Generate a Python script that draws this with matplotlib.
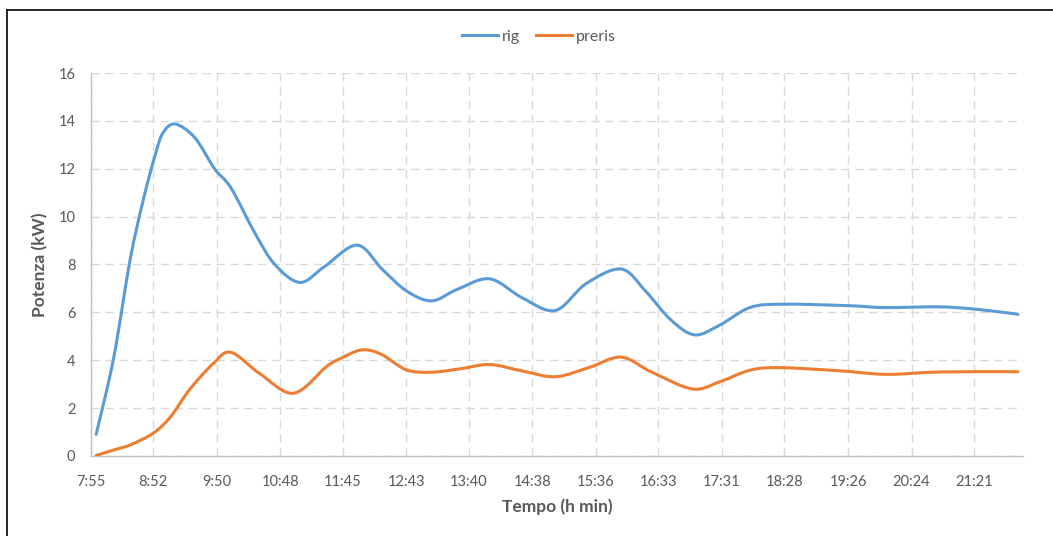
import matplotlib
matplotlib.use("Agg")
import matplotlib.pyplot as plt
from matplotlib.lines import Line2D
from matplotlib.patches import PathPatch
from matplotlib.path import Path

# tick labels on the time axis
tick_labels = ["7:55", "8:52", "9:50", "10:48", "11:45", "12:43", "13:40", "14:38",
               "15:36", "16:33", "17:31", "18:28", "19:26", "20:24", "21:21"]

# series (clock time, kW)
rig_time = ["8:00", "8:16", "8:31", "8:43", "8:54", "9:01", "9:12", "9:30", "9:48",
            "10:03", "10:25", "10:43", "11:06", "11:28", "11:58", "12:21", "12:43",
            "13:06", "13:29", "13:59", "14:29", "14:59", "15:27", "15:59", "16:21",
            "16:44", "17:06", "17:29", "17:57", "18:28", "19:26", "20:00", "20:49",
            "21:23", "22:01"]
rig_kw = [0.9, 4.1, 8.2, 10.7, 12.6, 13.5, 13.87, 13.3, 12.0,
          11.2, 9.3, 8.0, 7.25, 7.9, 8.81, 7.8, 6.9,
          6.48, 6.95, 7.4, 6.6, 6.08, 7.2, 7.81, 6.9,
          5.7, 5.06, 5.47, 6.21, 6.34, 6.28, 6.2, 6.23,
          6.13, 5.92]

preris_time = ["8:00", "8:16", "8:31", "8:52", "9:08", "9:25", "9:47", "10:03", "10:29",
               "11:00", "11:30", "11:42", "12:02", "12:20", "12:43", "13:06", "13:32",
               "13:59", "14:29", "14:59", "15:30", "15:59", "16:27", "17:04", "17:29",
               "17:57", "18:24", "19:18", "20:01", "20:50", "22:01"]
preris_kw = [0.02, 0.25, 0.46, 0.95, 1.64, 2.76, 3.87, 4.33, 3.45,
             2.62, 3.73, 4.05, 4.43, 4.25, 3.6, 3.5, 3.64,
             3.82, 3.55, 3.31, 3.7, 4.13, 3.5, 2.8, 3.1,
             3.59, 3.69, 3.56, 3.41, 3.51, 3.52]

BLUE = "#5b9bd5"
ORANGE = "#ed7d31"
TXT = "#595959"


def to_min(s):
    h, m = s.split(":")
    return int(h) * 60 + int(m)


def smooth_path(xs, ys):
    # Excel-style smoothed line: cubic Bezier through every point
    pts = list(zip(xs, ys))
    n = len(pts)
    verts = [pts[0]]
    codes = [Path.MOVETO]
    for i in range(n - 1):
        p0 = pts[max(i - 1, 0)]
        p1 = pts[i]
        p2 = pts[i + 1]
        p3 = pts[min(i + 2, n - 1)]
        c1 = (p1[0] + (p2[0] - p0[0]) / 6, p1[1] + (p2[1] - p0[1]) / 6)
        c2 = (p2[0] - (p3[0] - p1[0]) / 6, p2[1] - (p3[1] - p1[1]) / 6)
        verts += [c1, c2, p2]
        codes += [Path.CURVE4] * 3
    return Path(verts, codes)


plt.rcParams["font.family"] = ["Lato", "DejaVu Sans"]

fig = plt.figure(figsize=(10.53, 5.36), dpi=100)
ax = fig.add_axes([0.0861, 0.1493, 0.9715 - 0.0861, 0.8638 - 0.1493])

for t, v, col in [(rig_time, rig_kw, BLUE), (preris_time, preris_kw, ORANGE)]:
    p = smooth_path([to_min(s) for s in t], v)
    ax.add_patch(PathPatch(p, fill=False, edgecolor=col, lw=2.2,
                           capstyle="round", joinstyle="round", zorder=3))

ticks = [to_min(s) for s in tick_labels]
ax.set_xticks(ticks)
ax.set_xticklabels(tick_labels)
ax.set_xlim(475, 1325.6)
ax.set_ylim(0, 16)
ax.set_yticks(range(0, 17, 2))

ax.grid(True, color="#d9d9d9", lw=1.0, linestyle=(0, (6, 4)))
ax.set_axisbelow(True)
for side in ["top", "right"]:
    ax.spines[side].set_visible(False)
for side in ["left", "bottom"]:
    ax.spines[side].set_color("#bfbfbf")
    ax.spines[side].set_linewidth(1.0)
ax.tick_params(axis="x", length=0, pad=14, labelsize=10.5, labelcolor=TXT)
ax.tick_params(axis="y", length=0, pad=11, labelsize=10.5, labelcolor=TXT)

ax.set_xlabel("Tempo (h min)", fontsize=12.5, fontweight="bold", color=TXT)
ax.set_ylabel("Potenza (kW)", fontsize=12.5, fontweight="bold", color=TXT)
ax.xaxis.set_label_coords(0.5, -0.11)
ax.yaxis.set_label_coords(-0.045, 0.5)

handles = [Line2D([], [], color=BLUE, lw=2.2), Line2D([], [], color=ORANGE, lw=2.2)]
fig.legend(handles, ["rig", "preris"], loc="center", bbox_to_anchor=(0.512, 0.931),
           ncol=2, frameon=False, fontsize=11.5, handlelength=2.25, handletextpad=0.25,
           columnspacing=1.0, labelcolor=TXT)

# chart border (only left and top edges are visible in the picture)
fig.add_artist(Line2D([6.5 / 1053, 6.5 / 1053], [0, 1 - 9.5 / 536], transform=fig.transFigure,
                      color="black", lw=1.2))
fig.add_artist(Line2D([6.5 / 1053, 1], [1 - 9.5 / 536, 1 - 9.5 / 536], transform=fig.transFigure,
                      color="black", lw=1.2))

fig.savefig("out.png", dpi=100)
